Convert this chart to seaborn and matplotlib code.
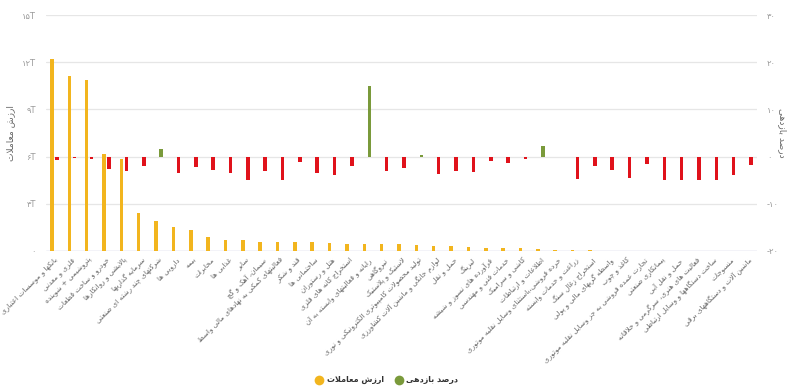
import numpy as np
import pandas as pd
import matplotlib
matplotlib.use("Agg")
import matplotlib.pyplot as plt
import seaborn as sns
from matplotlib.lines import Line2D

# ---------------- data ----------------
categories = [
    "بانکها و موسسات اعتباری",
    "فلزی و معدنی",
    "پتروشیمی + شوینده",
    "خودرو و ساخت قطعات",
    "پالایشی و روانکارها",
    "سرمایه گذاریها",
    "شرکتهای چند رشته ای صنعتی",
    "دارویی ها",
    "بیمه",
    "مخابرات",
    "غذایی ها",
    "سایر",
    "سیمان، آهک و گچ",
    "فعالیتهای کمکی به نهادهای مالی واسط",
    "قند و شکر",
    "ساختمانی ها",
    "هتل و رستوران",
    "استخراج کانه های فلزی",
    "رایانه و فعالیتهای وابسته به آن",
    "نیروگاهی",
    "لاستیک و پلاستیک",
    "تولید محصولات کامپیوتری الکترونیکی و نوری",
    "لوازم خانگی و ماشین آلات کشاورزی",
    "حمل و نقل",
    "لیزینگ",
    "فرآورده های نسوز و شیشه",
    "خدمات فنی و مهندسی",
    "کاشی و سرامیک",
    "اطلاعات و ارتباطات",
    "خرده فروشی،باستثنای وسایل نقلیه موتوری",
    "زراعت و خدمات وابسته",
    "استخراج زغال سنگ",
    "واسطه گریهای مالی و پولی",
    "کاغذ و چوب",
    "تجارت عمده فروشی به جز وسایل نقلیه موتوری",
    "پیمانکاری صنعتی",
    "حمل و نقل آبی",
    "فعالیت های هنری، سرگرمی و خلاقانه",
    "ساخت دستگاهها و وسایل ارتباطی",
    "منسوجات",
    "ماشین آلات و دستگاههای برقی",
]

trade_value = [12.2, 11.14, 10.87, 6.17, 5.83, 2.43, 1.9, 1.52, 1.35, 0.89,
               0.68, 0.68, 0.59, 0.59, 0.55, 0.55, 0.51, 0.47, 0.47, 0.42,
               0.42, 0.40, 0.34, 0.32, 0.25, 0.21, 0.21, 0.19, 0.13, 0.08,
               0.05, 0.04, 0.03, 0, 0, 0, 0, 0, 0, 0, 0]

returns = [-0.8, -0.2, -0.5, -2.7, -3.0, -1.9, 1.7, -3.4, -2.1, -2.8,
           -3.4, -5.0, -3.1, -5.0, -1.1, -3.4, -3.8, -2.0, 15.0, -3.0,
           -2.4, 0.3, -3.6, -3.1, -3.2, -0.9, -1.4, -0.5, 2.3, np.nan,
           -4.7, -2.0, -2.8, -4.6, -1.5, -4.9, -4.9, -4.9, -4.9, -3.9, -1.8]

left_ticks = [0, 3, 6, 9, 12, 15]
left_tick_labels = ["۰", "۳T", "۶T", "۹T", "۱۲T", "۱۵T"]
right_ticks = [-20, -10, 0, 10, 20, 30]
right_tick_labels = ["-۲۰", "-۱۰", "۰", "۱۰", "۲۰", "۳۰"]

series_value = "ارزش معاملات"
series_return = "درصد بازدهی"

# ---------------- minimal Arabic-script shaping ----------------
FORMS = {
    "ا": (0xFE8D, 0xFE8E, None, None),
    "آ": (0xFE81, 0xFE82, None, None),
    "ب": (0xFE8F, 0xFE90, 0xFE91, 0xFE92),
    "پ": (0xFB56, 0xFB57, 0xFB58, 0xFB59),
    "ت": (0xFE95, 0xFE96, 0xFE97, 0xFE98),
    "ث": (0xFE99, 0xFE9A, 0xFE9B, 0xFE9C),
    "ج": (0xFE9D, 0xFE9E, 0xFE9F, 0xFEA0),
    "چ": (0xFB7A, 0xFB7B, 0xFB7C, 0xFB7D),
    "ح": (0xFEA1, 0xFEA2, 0xFEA3, 0xFEA4),
    "خ": (0xFEA5, 0xFEA6, 0xFEA7, 0xFEA8),
    "د": (0xFEA9, 0xFEAA, None, None),
    "ذ": (0xFEAB, 0xFEAC, None, None),
    "ر": (0xFEAD, 0xFEAE, None, None),
    "ز": (0xFEAF, 0xFEB0, None, None),
    "ژ": (0xFB8A, 0xFB8B, None, None),
    "س": (0xFEB1, 0xFEB2, 0xFEB3, 0xFEB4),
    "ش": (0xFEB5, 0xFEB6, 0xFEB7, 0xFEB8),
    "ص": (0xFEB9, 0xFEBA, 0xFEBB, 0xFEBC),
    "ض": (0xFEBD, 0xFEBE, 0xFEBF, 0xFEC0),
    "ط": (0xFEC1, 0xFEC2, 0xFEC3, 0xFEC4),
    "ظ": (0xFEC5, 0xFEC6, 0xFEC7, 0xFEC8),
    "ع": (0xFEC9, 0xFECA, 0xFECB, 0xFECC),
    "غ": (0xFECD, 0xFECE, 0xFECF, 0xFED0),
    "ف": (0xFED1, 0xFED2, 0xFED3, 0xFED4),
    "ق": (0xFED5, 0xFED6, 0xFED7, 0xFED8),
    "ک": (0xFB8E, 0xFB8F, 0xFB90, 0xFB91),
    "گ": (0xFB92, 0xFB93, 0xFB94, 0xFB95),
    "ل": (0xFEDD, 0xFEDE, 0xFEDF, 0xFEE0),
    "م": (0xFEE1, 0xFEE2, 0xFEE3, 0xFEE4),
    "ن": (0xFEE5, 0xFEE6, 0xFEE7, 0xFEE8),
    "و": (0xFEED, 0xFEEE, None, None),
    "ه": (0xFEE9, 0xFEEA, 0xFEEB, 0xFEEC),
    "ی": (0xFBFC, 0xFBFD, 0xFBFE, 0xFBFF),
    "ئ": (0xFE89, 0xFE8A, 0xFE8B, 0xFE8C),
}


def _joins_forward(c):
    return c in FORMS and FORMS[c][2] is not None


def shape(text):
    chars = list(text)
    n = len(chars)
    res = []
    i = 0
    while i < n:
        c = chars[i]
        if c not in FORMS:
            res.append(c)
            i += 1
            continue
        prev = chars[i - 1] if i > 0 else None
        connect_prev = prev is not None and _joins_forward(prev)
        if c == "ل" and i + 1 < n and chars[i + 1] in ("ا", "آ"):
            if chars[i + 1] == "ا":
                g = 0xFEFC if connect_prev else 0xFEFB
            else:
                g = 0xFEF6 if connect_prev else 0xFEF5
            res.append(chr(g))
            i += 2
            continue
        nxt = chars[i + 1] if i + 1 < n else None
        connect_next = nxt is not None and nxt in FORMS and _joins_forward(c)
        iso, fin, ini, med = FORMS[c]
        if connect_prev and connect_next:
            g = med
        elif connect_prev:
            g = fin
        elif connect_next:
            g = ini
        else:
            g = iso
        res.append(chr(g))
        i += 1
    return "".join(reversed(res))


# ---------------- figure ----------------
sns.set_theme(style="white")
plt.rcParams["font.family"] = ["DejaVu Sans"]

YELLOW = "#F2B51E"
GREEN = "#7A9A3B"
RED = "#E0121B"

W, H = 800, 388
fig = plt.figure(figsize=(W / 100, H / 100), dpi=100)
ax1 = fig.add_axes([45.8 / W, 1 - 251 / H, 711.4 / W, 236 / H])
ax2 = ax1.twinx()

df_val = pd.DataFrame({"cat": categories, "v": trade_value, "series": series_value})
df_ret = pd.DataFrame({"cat": categories, "v": returns, "series": series_return})
hue_order = [series_value, series_return]

sns.barplot(data=df_val, x="cat", y="v", hue="series", hue_order=hue_order,
            order=categories, palette=[YELLOW, GREEN], width=0.58, gap=0.3,
            dodge=True, legend=False, ax=ax1, saturation=1)
sns.barplot(data=df_ret, x="cat", y="v", hue="series", hue_order=hue_order,
            order=categories, palette=[YELLOW, GREEN], width=0.58, gap=0.3,
            dodge=True, legend=False, ax=ax2, saturation=1)

for p in ax2.patches:
    h = p.get_height()
    if np.isfinite(h):
        p.set_facecolor(GREEN if h > 0 else RED)
        p.set_edgecolor("none")
for p in ax1.patches:
    p.set_edgecolor("none")

ax1.set_ylim(0, 15)
ax2.set_ylim(-20, 30)
ax1.set_xlim(-0.5, len(categories) - 0.5)

for ax in (ax1, ax2):
    for s in ax.spines.values():
        s.set_visible(False)
    ax.set_xlabel("")

ax1.set_yticks(left_ticks)
ax1.set_yticklabels(left_tick_labels)
ax2.set_yticks(right_ticks)
ax2.set_yticklabels(right_tick_labels)
ax1.tick_params(axis="y", length=0, pad=7, labelsize=6, labelcolor="#9a9a9a")
ax2.tick_params(axis="y", length=0, pad=7, labelsize=6, labelcolor="#9a9a9a")

ax1.yaxis.grid(True, color="#e6e6e6", linewidth=0.9)
ax1.set_axisbelow(True)
ax2.grid(False)
ax1.axhline(0, color="#ccd6eb", linewidth=1.0, zorder=0.5)

ax1.set_xticks(range(len(categories)))
ax1.set_xticklabels([shape(c) for c in categories], rotation=45, ha="right",
                    rotation_mode="anchor", fontsize=5.2, color="#666666")
ax1.tick_params(axis="x", length=0, pad=4)

ax1.set_ylabel(shape(series_value), fontsize=6.5, color="#666666")
ax1.yaxis.set_label_coords(-0.043, 0.5)
ax2.set_ylabel(shape(series_return), fontsize=6.5, color="#666666", rotation=-90)
ax2.yaxis.set_label_coords(1.042, 0.5)

# legend drawn manually: [dot][label]  [dot][label], centred, widths measured
leg_y_px = 380
leg_center_px = 387
dot_r, dot_gap, item_gap = 3.5, 4.0, 11.0
entries = [(YELLOW, series_value), (GREEN, series_return)]
texts = [fig.text(0, 1 - leg_y_px / H, shape(lbl), ha="left", va="center",
                  fontsize=5.8, fontweight="bold", color="#333333")
         for _, lbl in entries]
fig.canvas.draw()
renderer = fig.canvas.get_renderer()
widths = [t.get_window_extent(renderer).width for t in texts]
total = sum(2 * dot_r + dot_gap + w for w in widths) + item_gap
x = leg_center_px - total / 2
for (color, _), t, w in zip(entries, texts, widths):
    fig.add_artist(Line2D([(x + dot_r) / W], [1 - leg_y_px / H], marker="o",
                          markersize=7, markerfacecolor=color,
                          markeredgecolor="none", linestyle="none",
                          transform=fig.transFigure))
    t.set_x((x + 2 * dot_r + dot_gap) / W)
    x += 2 * dot_r + dot_gap + w + item_gap

fig.savefig("out.png", dpi=100)
